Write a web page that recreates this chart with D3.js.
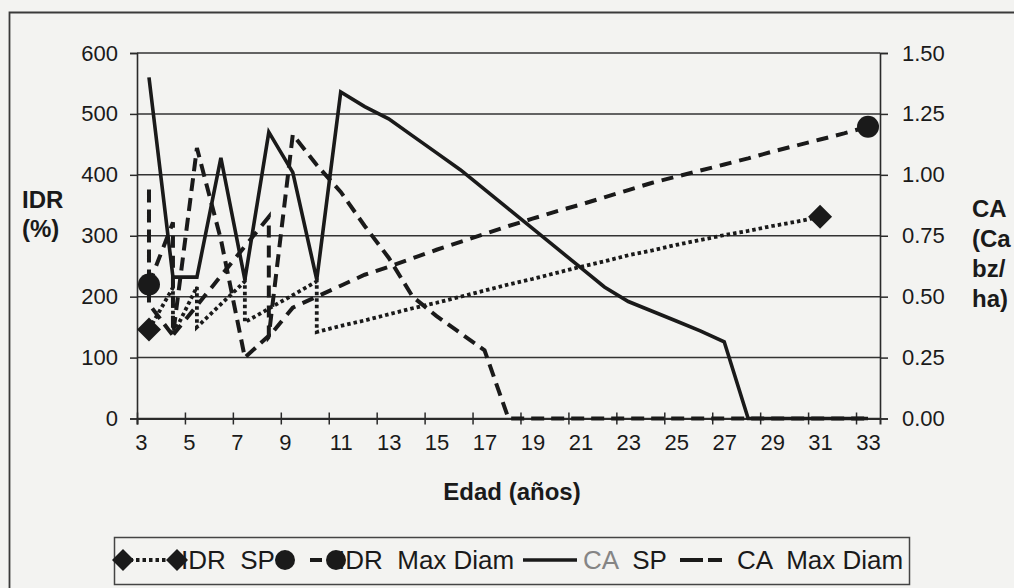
<!DOCTYPE html>
<html><head><meta charset="utf-8">
<script src="https://cdn.jsdelivr.net/npm/d3@7"></script>
<style>
html,body{margin:0;padding:0;background:#f3f3f1;}
svg{display:block;font-family:"Liberation Sans",Arial,sans-serif;}
</style></head><body>
<svg id="c" width="1014" height="588"></svg>
<script>
// ---- data ----
const ageTicks = [3,5,7,9,11,13,15,17,19,21,23,25,27,29,31,33];
const idrTicks = [0,100,200,300,400,500,600];
const caTicks = [0,0.25,0.5,0.75,1.0,1.25,1.5];

// IDR SP (%), left axis (repeated ages = vertical drops)
const idrSpAge = [3,4,4,5,5,7,7,10,10,11,12,13,14,15,16,17,18,19,20,21,22,23,24,25,26,27,28,29,30,31];
const idrSpVal = [146,215,137,216,150,225,158,225,142,152,161,171,181,190,200,210,220,229,239,249,258,268,276,285,293,301,308,316,323,331];

// IDR Max Diam (%), left axis
const idrMdAge = [3,4,4,8,8,9,10,11,12,13,14,15,16,17,18,19,20,21,22,23,24,25,26,27,28,29,30,31,32,33];
const idrMdVal = [220,322,137,331,134,182,200,218,236,249,263,277,290,303,316,328,340,351,363,375,387,397,407,417,427,438,448,458,468,479];

// CA SP (Ca bz/ha), right axis
const caSpAge = [3,4,5,6,7,8,9,10,11,12,13,14,15,16,17,18,19,20,21,22,23,24,25,26,27,28,29,30,31,32,33];
const caSpVal = [1.40,0.58,0.58,1.07,0.57,1.175,1.01,0.57,1.34,1.28,1.23,1.16,1.09,1.02,0.94,0.86,0.78,0.70,0.62,0.54,0.48,0.44,0.40,0.36,0.315,0,0,0,0,0,0];

// CA Max Diam (Ca bz/ha), right axis
const caMdAge = [3,3,4,5,6,7,8,9,10,11,12,13,14,15,16,17,18,19,20,21,22,23,24,25,26,27,28,29,30,31,32,33];
const caMdVal = [0.94,0.47,0.34,1.11,0.735,0.25,0.34,1.165,1.04,0.93,0.79,0.66,0.50,0.42,0.35,0.28,0,0,0,0,0,0,0,0,0,0,0,0,0,0,0,0];

// ---- drawing ----
const svg = d3.select("#c");
const ink = "#1a1a1a";
const L = 137, R = 880, T = 53, B = 418.5;
const x = d3.scaleLinear().domain([2.5, 33.5]).range([L, R]);
const yL = d3.scaleLinear().domain([0, 600]).range([B, T]);
const yR = d3.scaleLinear().domain([0, 1.5]).range([B, T]);

// outer frame
svg.append("path").attr("d","M9.5,588 L9.5,12.5 L1014,12.5").attr("fill","none").attr("stroke","#3a3a3a").attr("stroke-width",1.8);

// gridlines
svg.append("g").selectAll("line").data(idrTicks).join("line")
  .attr("x1",L).attr("x2",R).attr("y1",d=>yL(d)).attr("y2",d=>yL(d))
  .attr("stroke","#333").attr("stroke-width",1.5);

// left axis
const gL = svg.append("g").attr("transform",`translate(${L},0)`)
  .call(d3.axisLeft(yL).tickValues(idrTicks).tickSize(7).tickPadding(12));
// right axis
const gR = svg.append("g").attr("transform",`translate(${R},0)`)
  .call(d3.axisRight(yR).tickValues(caTicks).tickSize(8).tickPadding(14).tickFormat(d3.format(".2f")));
[gL,gR].forEach(g=>{
  g.select(".domain").attr("stroke","#2a2a2a").attr("stroke-width",1.6);
  g.selectAll(".tick line").attr("stroke","#2a2a2a").attr("stroke-width",1.5);
  g.selectAll("text").attr("font-size",22).attr("fill","#1a1a1a").attr("font-family","Liberation Sans, Arial, sans-serif");
});

// bottom axis: tick marks between categories
const bounds = d3.range(2.5, 33, 2);
const gB = svg.append("g").attr("transform",`translate(0,${B})`)
  .call(d3.axisBottom(x).tickValues(bounds).tickSize(6).tickFormat(""));
gB.select(".domain").attr("stroke","#2a2a2a").attr("stroke-width",2);
gB.selectAll(".tick line").attr("y1",-6).attr("stroke","#2a2a2a").attr("stroke-width",1.5);
// labels at category centres
const gB2 = svg.append("g").attr("transform",`translate(0,${B})`)
  .call(d3.axisBottom(x).tickValues(ageTicks).tickSize(0).tickPadding(16));
gB2.select(".domain").remove();
gB2.selectAll("text").attr("font-size",22).attr("fill","#1a1a1a").attr("font-family","Liberation Sans, Arial, sans-serif")
  .attr("dx",d=>d<10?-8:0);

// axis titles
const bold = {"font-size":24,"font-weight":"bold","fill":"#1a1a1a"};
function txt(s,xx,yy,attrs){const t=svg.append("text").attr("x",xx).attr("y",yy).text(s);for(const k in attrs)t.attr(k,attrs[k]);return t;}
txt("IDR",22,208,bold);
txt("(%)",22,237,bold);
txt("CA",972,217,bold);
txt("(Ca",972,247,bold);
txt("bz/",972,277,bold);
txt("ha)",972,307,bold);
txt("Edad (años)",512,500,Object.assign({"text-anchor":"middle"},bold));

// series
const lineL = d3.line().x(d=>x(d[0])).y(d=>yL(d[1]));
const lineR = d3.line().x(d=>x(d[0])).y(d=>yR(d[1]));
const zip = (a,b)=>a.map((v,i)=>[v,b[i]]);
const spIdr = zip(idrSpAge, idrSpVal), mdIdr = zip(idrMdAge, idrMdVal);
const spCa = zip(caSpAge, caSpVal), mdCa = zip(caMdAge, caMdVal);

svg.append("path").attr("d",lineR(mdCa)).attr("fill","none").attr("stroke",ink).attr("stroke-width",4).attr("stroke-dasharray","13,7");
svg.append("path").attr("d",lineR(spCa)).attr("fill","none").attr("stroke",ink).attr("stroke-width",3.6).attr("stroke-linejoin","miter");
svg.append("path").attr("d",lineL(mdIdr)).attr("fill","none").attr("stroke",ink).attr("stroke-width",4).attr("stroke-dasharray","12,8");
svg.append("path").attr("d",lineL(spIdr)).attr("fill","none").attr("stroke",ink).attr("stroke-width",3.8).attr("stroke-dasharray","3.5,3");

// markers (first and last points of IDR series)
const diamond = (cx,cy,h)=>`M${cx},${cy-h}L${cx+h},${cy}L${cx},${cy+h}L${cx-h},${cy}Z`;
[spIdr[0], spIdr[spIdr.length-1]].forEach(d=>{
  svg.append("path").attr("d",diamond(x(d[0]),yL(d[1]),12)).attr("fill",ink);
});
[mdIdr[0], mdIdr[mdIdr.length-1]].forEach(d=>{
  svg.append("circle").attr("cx",x(d[0])).attr("cy",yL(d[1])).attr("r",11).attr("fill",ink);
});

// legend
const lg = svg.append("g");
const ly = 560;
lg.append("rect").attr("x",114.5).attr("y",537.5).attr("width",795).attr("height",47).attr("fill","none").attr("stroke","#444").attr("stroke-width",1.5);
lg.append("line").attr("x1",123).attr("x2",177).attr("y1",ly).attr("y2",ly).attr("stroke",ink).attr("stroke-width",3.8).attr("stroke-dasharray","3.5,3");
lg.append("path").attr("d",diamond(123,ly,11)).attr("fill",ink);
lg.append("path").attr("d",diamond(177,ly,11)).attr("fill",ink);
lg.append("text").attr("x",181).attr("y",569).attr("font-size",26).attr("fill","#1a1a1a").style("white-space","pre").text("IDR  SP");
lg.append("line").attr("x1",285).attr("x2",337).attr("y1",ly).attr("y2",ly).attr("stroke",ink).attr("stroke-width",4).attr("stroke-dasharray","0,25,12,30");
lg.append("circle").attr("cx",285).attr("cy",ly).attr("r",10).attr("fill",ink);
lg.append("circle").attr("cx",336).attr("cy",ly).attr("r",10).attr("fill",ink);
lg.append("text").attr("x",338).attr("y",569).attr("font-size",26).attr("fill","#1a1a1a").style("white-space","pre").text("IDR  Max Diam");
lg.append("line").attr("x1",523).attr("x2",577).attr("y1",ly).attr("y2",ly).attr("stroke",ink).attr("stroke-width",3.6);
const t3 = lg.append("text").attr("x",583).attr("y",569).attr("font-size",26).style("white-space","pre");
t3.append("tspan").attr("fill","#858585").text("CA");
t3.append("tspan").attr("fill","#1a1a1a").text("  SP");
lg.append("line").attr("x1",680).attr("x2",730).attr("y1",ly).attr("y2",ly).attr("stroke",ink).attr("stroke-width",4).attr("stroke-dasharray","23,5,14,50");
lg.append("text").attr("x",737).attr("y",569).attr("font-size",26).attr("fill","#1a1a1a").style("white-space","pre").text("CA  Max Diam");
</script>
</body></html>
